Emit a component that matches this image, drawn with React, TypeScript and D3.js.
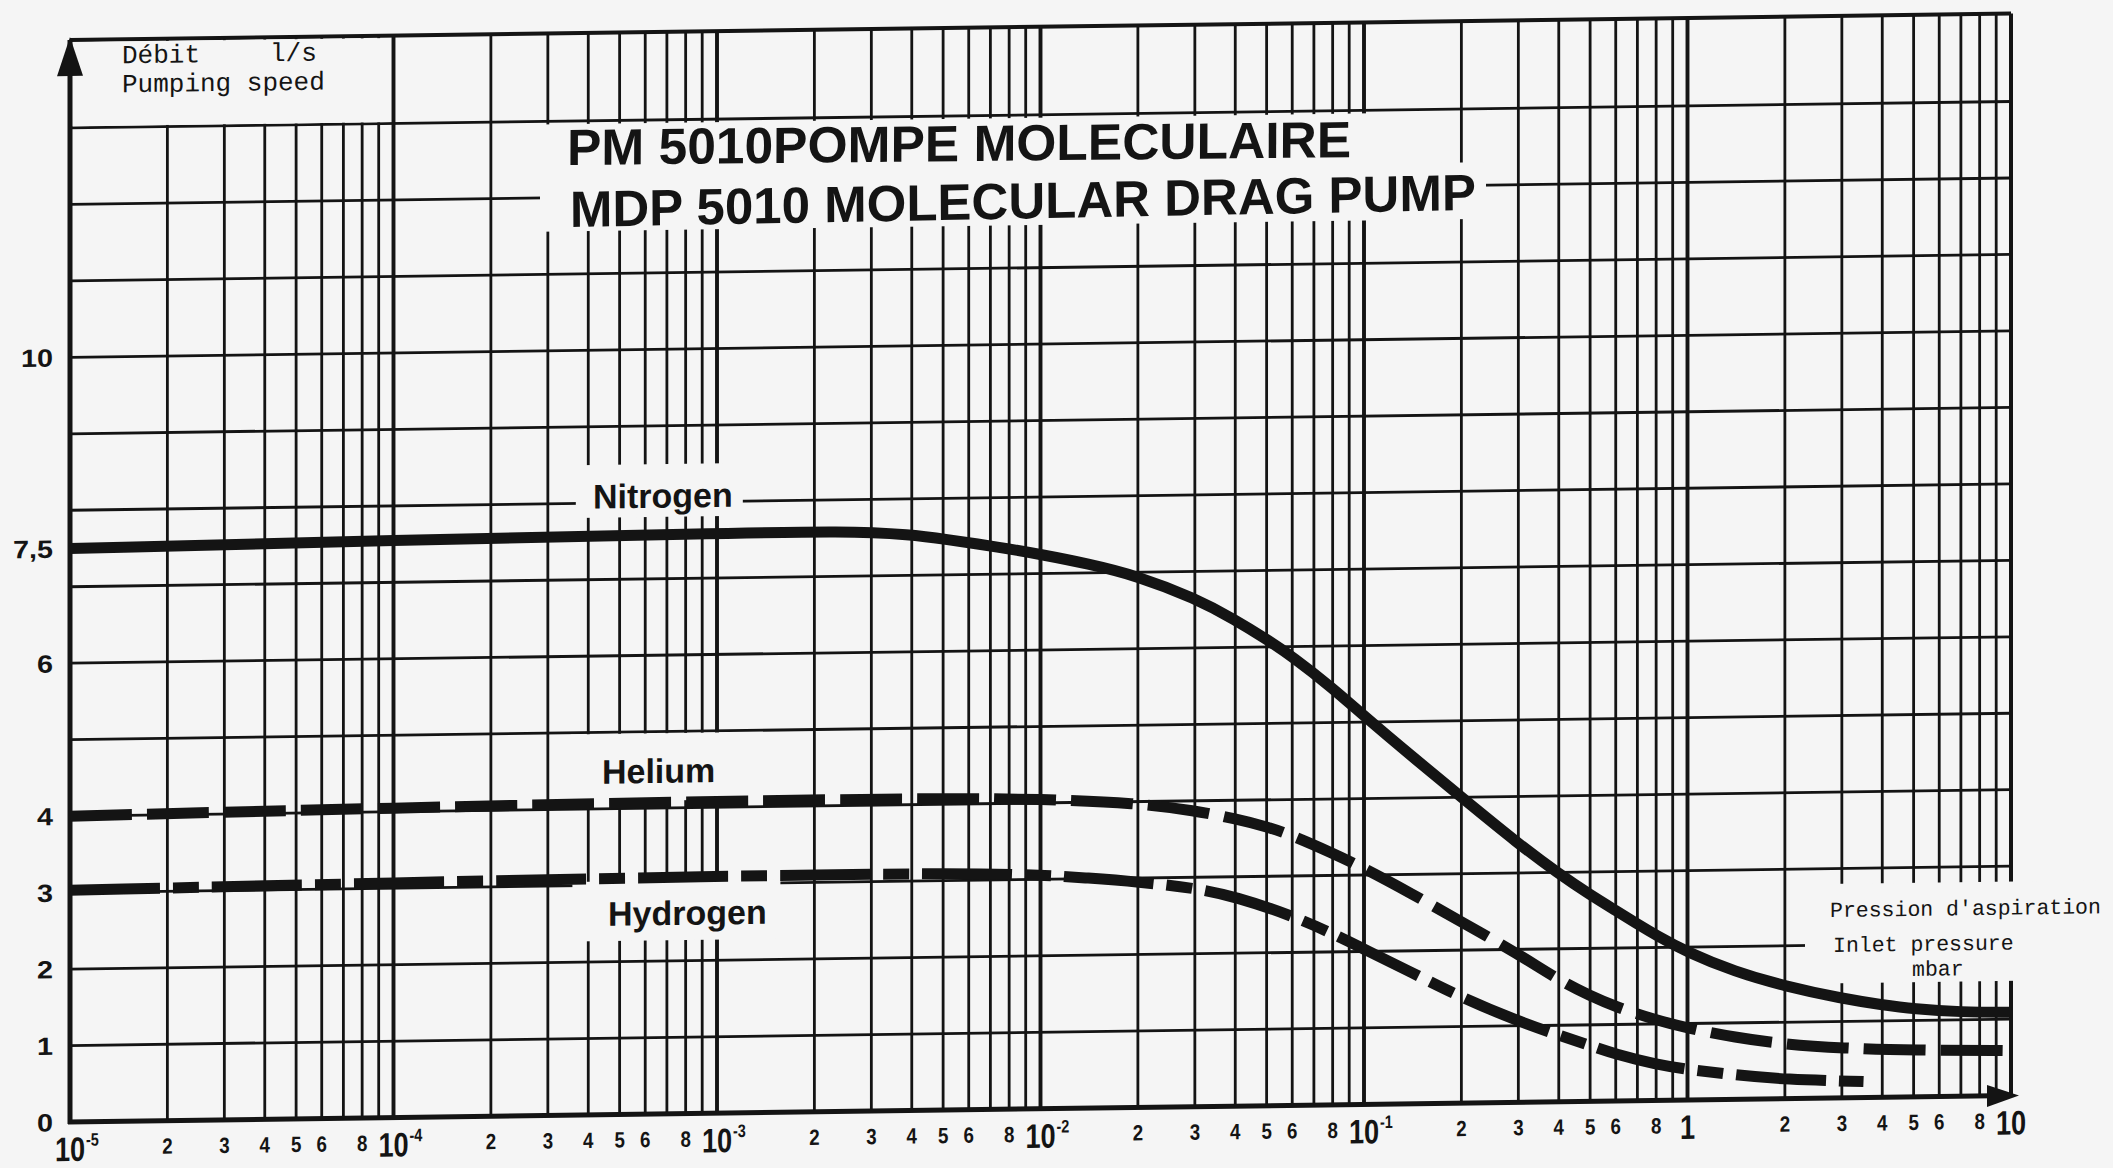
import React, { useEffect, useRef } from "react";
import * as d3 from "d3";

// inlet pressure (mbar) / pumping speed (l/s)
const nitrogenP = [1e-5, 1e-4, 1e-3, 2.5e-3, 4e-3, 5e-3, 7.5e-3, 1e-2, 1.4e-2, 2e-2, 3e-2, 4e-2, 5e-2, 6e-2, 8e-2, 0.1, 0.14, 0.2, 0.3, 0.4, 0.5, 0.6, 0.7, 0.8, 1, 1.4, 2, 3, 4, 5, 7, 10];
const nitrogenS = [7.5, 7.55, 7.58, 7.59, 7.53, 7.47, 7.35, 7.25, 7.12, 6.95, 6.65, 6.36, 6.1, 5.87, 5.45, 5.08, 4.55, 4.0, 3.38, 2.98, 2.7, 2.49, 2.31, 2.16, 1.93, 1.67, 1.47, 1.3, 1.21, 1.15, 1.1, 1.09];

const heliumP = [1e-5, 1e-4, 1e-3, 5e-3, 1e-2, 2e-2, 3e-2, 4e-2, 5e-2, 6e-2, 8e-2, 0.1, 0.14, 0.2, 0.3, 0.4, 0.5, 0.6, 0.8, 1, 1.4, 2, 3, 5, 10];
const heliumS = [4.0, 4.05, 4.08, 4.08, 4.05, 3.98, 3.87, 3.76, 3.65, 3.53, 3.29, 3.09, 2.75, 2.37, 1.94, 1.59, 1.38, 1.23, 1.05, 0.94, 0.81, 0.71, 0.65, 0.61, 0.59];

const hydrogenP = [1e-5, 1e-4, 1e-3, 5e-3, 1e-2, 1.4e-2, 2e-2, 3e-2, 4e-2, 6e-2, 8e-2, 0.1, 0.14, 0.2, 0.3, 0.4, 0.5, 0.6, 0.8, 1, 1.4, 2, 3.5];
const hydrogenS = [3.03, 3.07, 3.1, 3.1, 3.06, 3.01, 2.95, 2.86, 2.74, 2.48, 2.24, 2.03, 1.72, 1.38, 1.06, 0.87, 0.73, 0.61, 0.47, 0.4, 0.32, 0.25, 0.21];

const yTicks = [0, 1, 2, 3, 4, 6, 7.5, 10];
const yTickLabels = ["0", "1", "2", "3", "4", "6", "7,5", "10"];
const decades = [1e-5, 1e-4, 1e-3, 1e-2, 1e-1, 1, 10];
const decadeBase = ["10", "10", "10", "10", "10", "1", "10"];
const decadeExp = ["-5", "-4", "-3", "-2", "-1", "", ""];
const minorDigits = [2, 3, 4, 5, 6, 8];
const titleLines = ["PM 5010POMPE MOLECULAIRE", "MDP 5010 MOLECULAR DRAG PUMP"];
const gasNames = ["Nitrogen", "Helium", "Hydrogen"];
const yAxisLines = ["Débit", "l/s", "Pumping speed"];
const xAxisLines = ["Pression d'aspiration", "Inlet pressure", "mbar"];

const W = 2113;
const H = 1168;

export default function App() {
  const ref = useRef<SVGSVGElement>(null);

  useEffect(() => {
    const svg = d3.select(ref.current);
    svg.selectAll("*").remove();
    const ink = "#141414";
    const paper = "#f5f5f5";
    const sans = "'Liberation Sans', Arial, sans-serif";
    const mono = "'Liberation Mono', 'DejaVu Sans Mono', monospace";

    svg.append("rect").attr("width", W).attr("height", H).attr("fill", paper);

    const x = d3.scaleLog().domain([1e-5, 10]).range([70, 2011]);
    const y = d3.scaleLinear().domain([0, 14.15]).range([1122, 40]);
    const yTop = 14.15;

    // scanned sheet: horizontals climb a little to the right
    const g = svg.append("g").attr("transform", "translate(70,0) skewY(-0.78) translate(-70,0)");

    // grid
    const verticals: number[] = [];
    for (let e = -5; e < 1; e++) for (let m = 1; m <= 9; m++) verticals.push(m * Math.pow(10, e));
    g.selectAll(".vgrid").data(verticals.filter(v => v > 1e-5)).join("line")
      .attr("x1", d => x(d)).attr("x2", d => x(d))
      .attr("y1", y(0)).attr("y2", y(yTop))
      .attr("stroke", ink)
      .attr("stroke-width", d => (Math.abs(Math.log10(d) - Math.round(Math.log10(d))) < 1e-9 ? 3.9 : 2.8));

    g.selectAll(".hgrid").data(d3.range(1, 14)).join("line")
      .attr("x1", x(1e-5)).attr("x2", x(10))
      .attr("y1", d => y(d)).attr("y2", d => y(d))
      .attr("stroke", ink).attr("stroke-width", 2.8);

    // frame
    g.append("line").attr("x1", x(1e-5)).attr("x2", x(10)).attr("y1", y(yTop)).attr("y2", y(yTop)).attr("stroke", ink).attr("stroke-width", 4);
    g.append("line").attr("x1", x(10)).attr("x2", x(10)).attr("y1", y(0)).attr("y2", y(yTop)).attr("stroke", ink).attr("stroke-width", 4);
    g.append("line").attr("x1", x(1e-5)).attr("x2", x(1e-5)).attr("y1", y(0) + 2).attr("y2", y(yTop)).attr("stroke", ink).attr("stroke-width", 5);
    g.append("line").attr("x1", x(1e-5) - 2).attr("x2", x(10)).attr("y1", y(0)).attr("y2", y(0)).attr("stroke", ink).attr("stroke-width", 5);

    // blanked areas behind the texts
    const blank = (x0: number, x1: number, y0: number, y1: number) =>
      g.append("rect").attr("x", x0).attr("y", y(y0)).attr("width", x1 - x0).attr("height", y(y1) - y(y0)).attr("fill", paper);
    blank(x(1e-5) + 3, x(1e-4) - 2.5, yTop - 0.03, 13.02);
    blank(540, 1440, 12.96, 11.56);
    blank(1440, 1486, 12.3, 11.56);
    blank(1805, W + 40, 2.8, 1.5);

    const labelAt = [
      { p: 6.8e-4, s: 7.93, left: 87, right: 80, top: 8.5, bottom: 7.81 },
      { p: 6.6e-4, s: 4.33, left: 88, right: 77, top: 4.98, bottom: 4.1 },
      { p: 8.1e-4, s: 2.47, left: 115, right: 93, top: 3.05, bottom: 2.27 },
    ];
    labelAt.forEach(l => blank(x(l.p) - l.left, x(l.p) + l.right, l.top, l.bottom));

    // curves
    const line = d3.line<[number, number]>().x(d => x(d[0])).y(d => y(d[1])).curve(d3.curveBasis);
    const series = [
      { p: nitrogenP, s: nitrogenS, dash: null },
      { p: heliumP, s: heliumS, dash: "62,15" },
      { p: hydrogenP, s: hydrogenS, dash: "90,13,26,13" },
    ];
    series.forEach(sr => {
      g.append("path")
        .attr("d", line(sr.p.map((p, i) => [p, sr.s[i]] as [number, number])))
        .attr("fill", "none").attr("stroke", ink).attr("stroke-width", 11)
        .attr("stroke-dasharray", sr.dash);
    });

    // gas names
    gasNames.forEach((name, i) => {
      g.append("text").attr("x", x(labelAt[i].p)).attr("y", y(labelAt[i].s))
        .attr("text-anchor", "middle").attr("font-family", sans).attr("font-weight", "bold")
        .attr("font-size", 34).attr("fill", ink).text(name);
    });

    // title
    g.append("text").attr("x", 567).attr("y", 171.8).attr("transform", "rotate(0.2 567 171.8)")
      .attr("font-family", sans).attr("font-weight", "bold").attr("font-size", 51).attr("fill", ink)
      .attr("textLength", 784).attr("lengthAdjust", "spacingAndGlyphs").text(titleLines[0]);
    g.append("text").attr("x", 570).attr("y", 233.8).attr("transform", "rotate(-0.3 570 233.8)")
      .attr("font-family", sans).attr("font-weight", "bold").attr("font-size", 51).attr("fill", ink)
      .attr("textLength", 906).attr("lengthAdjust", "spacingAndGlyphs").text(titleLines[1]);

    // axis captions
    g.append("text").attr("x", 122).attr("y", 64).attr("font-family", mono).attr("font-size", 26).attr("fill", ink).text(yAxisLines[0]);
    g.append("text").attr("x", 270).attr("y", 64).attr("font-family", mono).attr("font-size", 26).attr("fill", ink).text(yAxisLines[1]);
    g.append("text").attr("x", 122).attr("y", 93).attr("font-family", mono).attr("font-size", 26).attr("fill", ink).text(yAxisLines[2]);

    g.append("text").attr("x", 1830).attr("y", 941).attr("font-family", mono).attr("font-size", 21.5).attr("fill", ink).text(xAxisLines[0]);
    g.append("text").attr("x", 1833).attr("y", 976).attr("font-family", mono).attr("font-size", 21.5).attr("fill", ink).text(xAxisLines[1]);
    g.append("text").attr("x", 1912).attr("y", 1001).attr("font-family", mono).attr("font-size", 21.5).attr("fill", ink).text(xAxisLines[2]);

    // y tick labels
    yTicks.forEach((v, i) => {
      g.append("text").attr("transform", `translate(53,${y(v) + 9}) scale(1.15,1)`)
        .attr("text-anchor", "end").attr("font-family", sans).attr("font-weight", "bold")
        .attr("font-size", 25).attr("fill", ink).text(yTickLabels[i]);
    });

    // x tick labels
    decades.forEach((v, i) => {
      g.append("text").attr("transform", `translate(${x(v)},${y(0) + 39}) scale(0.8,1)`)
        .attr("text-anchor", "middle").attr("font-family", sans).attr("font-weight", "bold")
        .attr("font-size", 34).attr("fill", ink).text(decadeBase[i]);
      if (decadeExp[i]) {
        g.append("text").attr("transform", `translate(${x(v) + 16},${y(0) + 24}) scale(0.8,1)`)
          .attr("font-family", sans).attr("font-weight", "bold")
          .attr("font-size", 18).attr("fill", ink).text(decadeExp[i]);
      }
    });
    decades.slice(0, 6).forEach(dv => {
      minorDigits.forEach(m => {
        g.append("text").attr("transform", `translate(${x(m * dv)},${y(0) + 33}) scale(0.85,1)`)
          .attr("text-anchor", "middle").attr("font-family", sans).attr("font-weight", "bold")
          .attr("font-size", 22).attr("fill", ink).text(String(m));
      });
    });

    // arrow heads
    g.append("path").attr("d", `M${x(1e-5)},${y(yTop) - 3} L${x(1e-5) - 13},${y(yTop) + 36} L${x(1e-5) + 13},${y(yTop) + 36} Z`).attr("fill", ink);
    g.append("path").attr("d", `M${x(10) + 8},${y(0)} L${x(10) - 24},${y(0) - 11} L${x(10) - 24},${y(0) + 11} Z`).attr("fill", ink);
  }, []);

  return (
    <div style={{ position: "absolute", left: 0, top: 0 }}>
      <svg ref={ref} width={W} height={H} style={{ display: "block" }} />
    </div>
  );
}
